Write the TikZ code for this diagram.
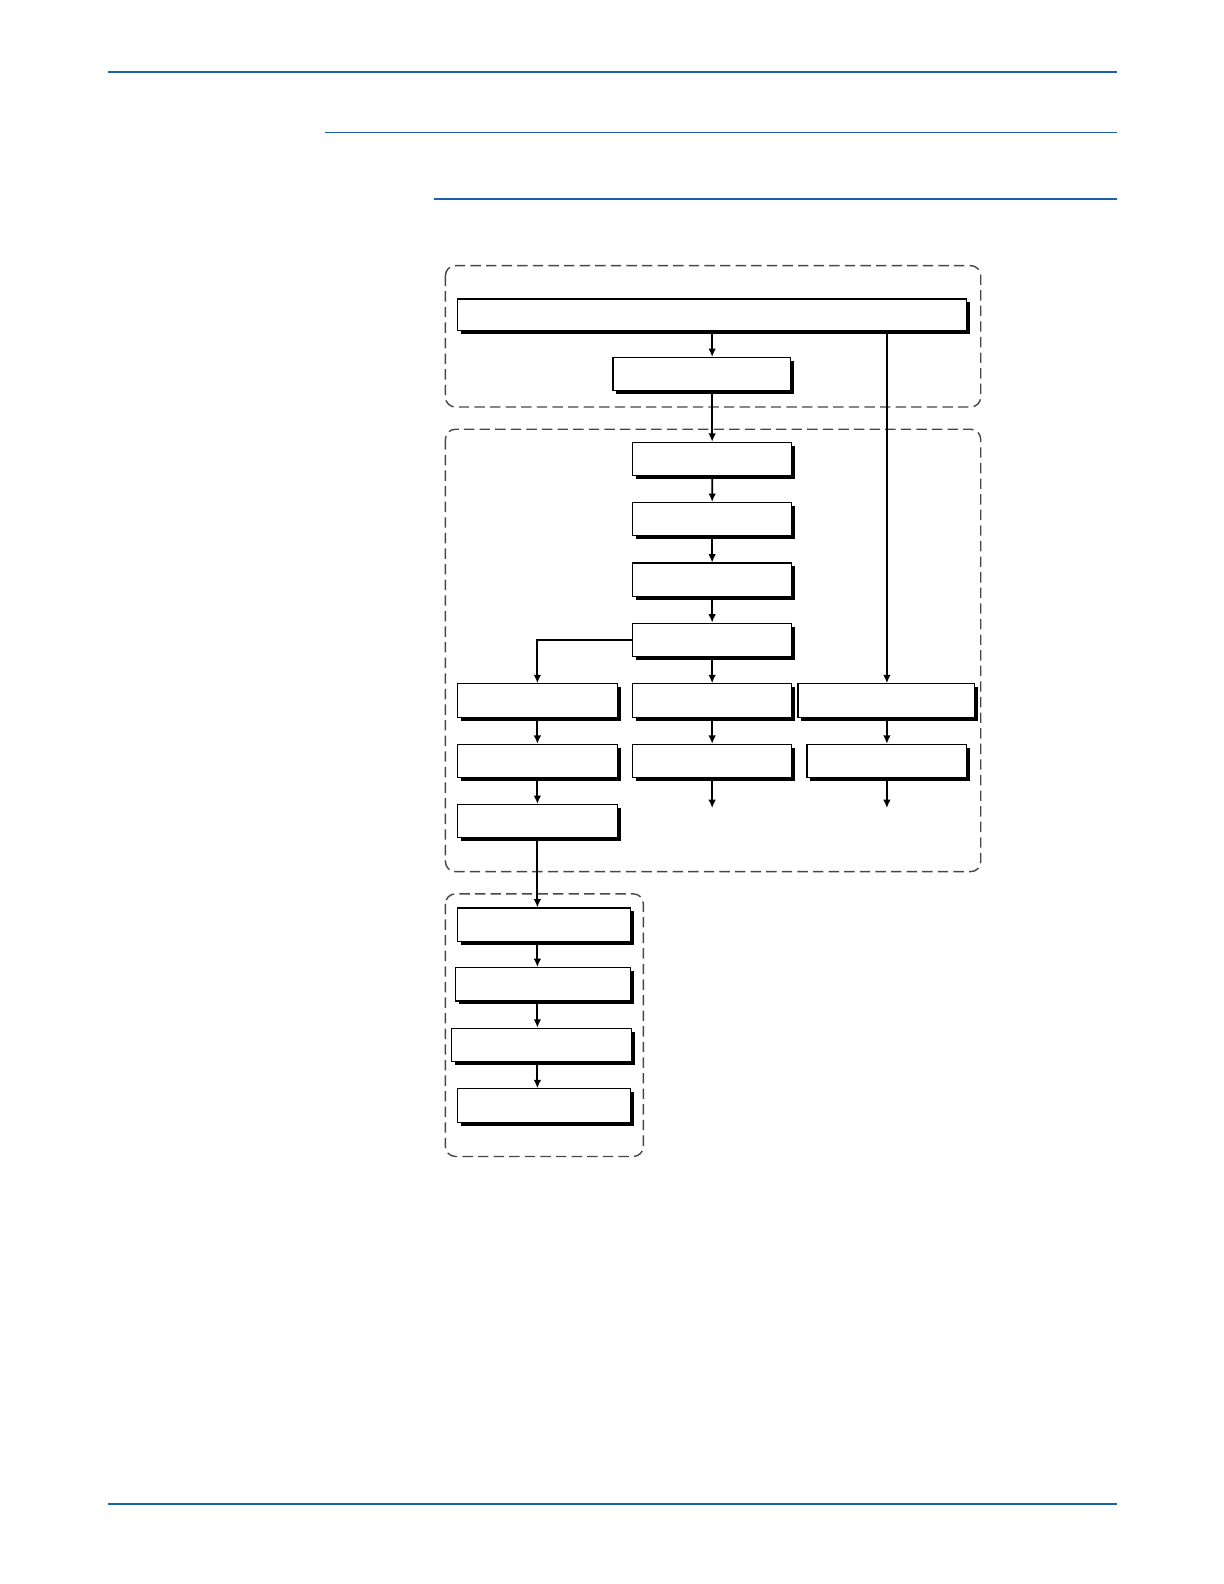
\documentclass[tikz,border=0pt]{standalone}
\usetikzlibrary{arrows.meta,shadows}
\definecolor{rule}{RGB}{28,95,172}
\definecolor{dashgray}{RGB}{70,70,70}
\begin{document}
\begin{tikzpicture}[x=0.5pt,y=-0.5pt,
  box/.style={draw,fill=white,line width=0.6pt,inner sep=0pt,minimum height=16.5pt,
    drop shadow={shadow xshift=1.7pt,shadow yshift=-1.7pt,fill=black,opacity=1}},
  grp/.style={draw=dashgray,line width=0.7pt,dash pattern=on 5.2pt off 2.6pt,rounded corners=5pt},
  arr/.style={line width=0.9pt,-{Latex[length=4.2pt,width=3.8pt]}},
  thickrule/.style={draw=rule,line width=1.1pt},
  thinrule/.style={draw=rule,line width=0.6pt}]
\useasboundingbox (0,0) rectangle (1224,1584);
\begin{scope}[scale=1.01,transform shape]
% blue rules
\draw[thickrule] (107,71) -- (1106,71);
\draw[thinrule] (322,131) -- (1106,131);
\draw[thinrule] (430,197) -- (1106,197);
\draw[thickrule] (107,1489) -- (1106,1489);
% dashed groups
\draw[grp] (441,263) rectangle (971,403);
\draw[grp] (441,425) rectangle (971,863);
\draw[grp] (441,885) rectangle (637,1145);
% columns
\coordinate (cL) at (532,0);
\coordinate (cM) at (705,0);
\coordinate (cR) at (878,0);
% boxes
\node[box,minimum width=252pt,minimum height=15.5pt] (B0) at (705,311.5) {};
\node[box,minimum width=88pt] (B1) at (695,370.5) {};
\node[box,minimum width=79pt] (B2) at (705,454.5) {};
\node[box,minimum width=79pt] (B3) at (705,514) {};
\node[box,minimum width=79pt] (B4) at (705,574) {};
\node[box,minimum width=79pt] (B5) at (705,633.5) {};
\node[box,minimum width=79pt] (L1) at (532,693.5) {};
\node[box,minimum width=79pt] (M1) at (705,693.5) {};
\node[box,minimum width=87.5pt] (R1) at (877.5,693.5) {};
\node[box,minimum width=79pt] (L2) at (532,753.5) {};
\node[box,minimum width=79pt] (M2) at (705,753.5) {};
\node[box,minimum width=79pt] (R2) at (878,753.5) {};
\node[box,minimum width=79pt] (L3) at (532,813) {};
\node[box,minimum width=85.5pt] (C1) at (538.5,915.5) {};
\node[box,minimum width=86.5pt] (C2) at (537.5,974.5) {};
\node[box,minimum width=89pt] (C3) at (536,1034.5) {};
\node[box,minimum width=85.5pt] (C4) at (538.5,1094.5) {};
\coordinate (endM) at (705,800);
\coordinate (endR) at (878,800);
% connectors
\draw[arr] (B0.south -| cM) -- (B1.north -| cM);
\draw[arr] (B1.south -| cM) -- (B2.north);
\draw[arr] (B2) -- (B3);
\draw[arr] (B3.south) -- (B4.north);
\draw[arr] (B4.south) -- (B5.north);
\draw[arr] (B5.south) -- (M1.north);
\draw[arr] (M1.south) -- (M2.north);
\draw[arr] (M2.south) -- (endM);
\draw[arr] (B0.south -| cR) -- (R1.north -| cR);
\draw[arr] (R1.south -| cR) -- (R2.north);
\draw[arr] (R2.south) -- (endR);
\draw[arr] (B5.west) -| (L1.north);
\draw[arr] (L1.south) -- (L2.north);
\draw[arr] (L2.south) -- (L3.north);
\draw[arr] (L3.south) -- (C1.north -| cL);
\draw[arr] (C1.south -| cL) -- (C2.north -| cL);
\draw[arr] (C2.south -| cL) -- (C3.north -| cL);
\draw[arr] (C3.south -| cL) -- (C4.north -| cL);
\end{scope}
\end{tikzpicture}
\end{document}
